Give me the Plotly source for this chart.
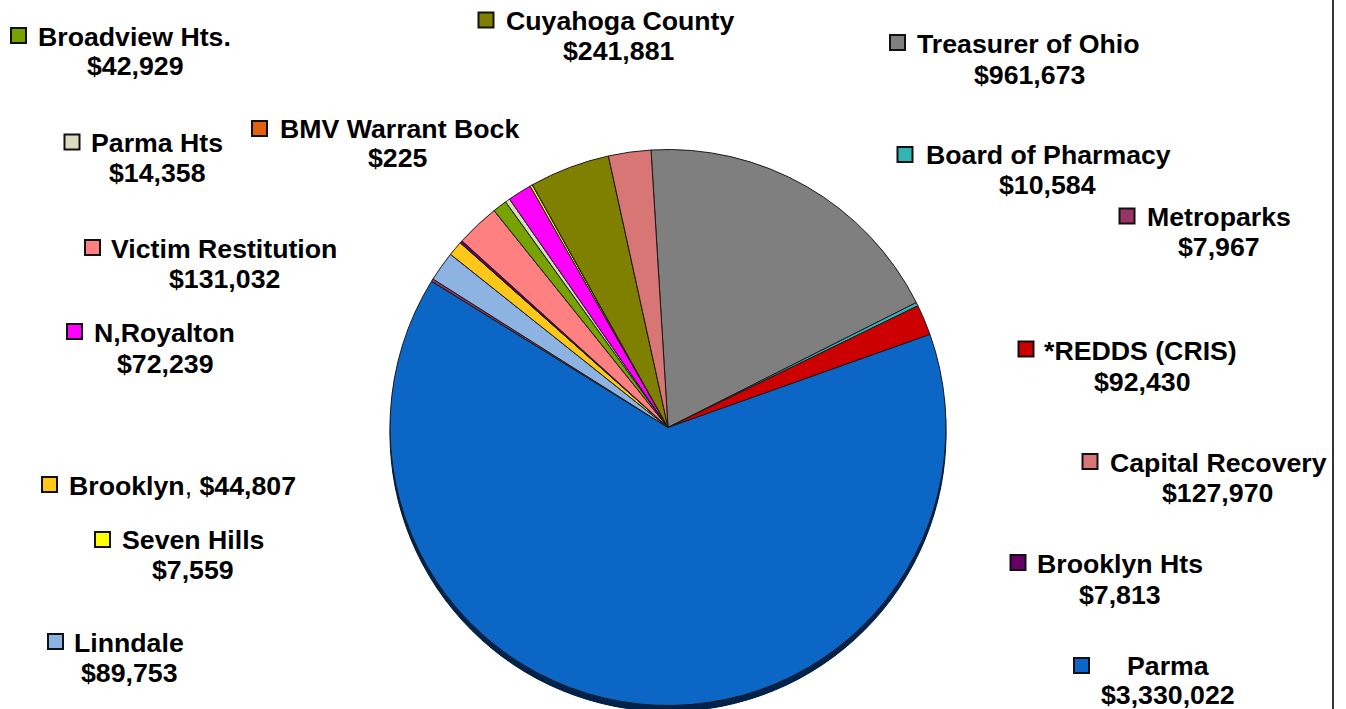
import plotly.graph_objects as go

# ---- data (clockwise order, starting with Treasurer of Ohio) ----
labels = ["Treasurer of Ohio", "Board of Pharmacy", "*REDDS (CRIS)", "Parma",
          "Metroparks", "Linndale", "Brooklyn", "Brooklyn Hts",
          "Victim Restitution", "Broadview Hts.", "Parma Hts", "N,Royalton",
          "Seven Hills", "BMV Warrant Bock", "Cuyahoga County", "Capital Recovery"]
values = [961673, 10584, 92430, 3330022,
          7967, 89753, 44807, 7813,
          131032, 42929, 14358, 72239,
          7559, 225, 241881, 127970]
colors = ["#7f7f7f", "#33b5b5", "#cc0000", "#0b66c6",
          "#993366", "#8db3e2", "#ffc819", "#660066",
          "#ff8080", "#77a300", "#dcdcc0", "#ff00ff",
          "#ffff00", "#e0620a", "#808000", "#d87676"]

W, H = 1346, 709

# ---- label layout (pixel positions: square centre, name left/centre-y, value centre) ----
label_pos = {
    "Broadview Hts.":     ((18.5, 35.5), (39, 36.5), (134.5, 66)),
    "Parma Hts":          ((72, 142), (92, 142.5), (157, 173)),
    "BMV Warrant Bock":   ((259.5, 128.5), (281, 129), (398, 158)),
    "Cuyahoga County":    ((486, 20), (507, 21), (618.5, 51)),
    "Treasurer of Ohio":  ((897.5, 42.5), (918, 43.5), (1029, 75)),
    "Board of Pharmacy":  ((905, 154.5), (927, 155), (1047, 185)),
    "Metroparks":         ((1127, 216), (1148, 216.5), (1219, 247)),
    "*REDDS (CRIS)":      ((1026, 349), (1045, 350.5), (1142, 382)),
    "Capital Recovery":   ((1090, 461.5), (1111, 463), (1217.5, 493)),
    "Brooklyn Hts":       ((1018, 562.5), (1038, 564), (1120, 594.5)),
    "Parma":              ((1081.5, 665.5), (1128, 666), (1168, 695)),
    "Victim Restitution": ((92.5, 247.5), (112, 249), (224.5, 279.5)),
    "N,Royalton":         ((74.5, 331.5), (95, 333), (164.5, 363.5)),
    "Brooklyn":           ((49.5, 484.5), (70, 486), None),
    "Seven Hills":        ((102.5, 539.5), (123, 540), (193, 570)),
    "Linndale":           ((55.5, 641.5), (75, 642.5), (129, 673)),
}

cx, cy, R = 668, 427.5, 278
shadow_dy = 6

def px(x):
    return x / W

def py(y):
    return 1 - y / H

fig = go.Figure()
fig.add_trace(go.Pie(
    labels=labels, values=values, sort=False, direction="clockwise",
    rotation=-3.5, textinfo="none", hoverinfo="label+value",
    marker=dict(colors=colors, line=dict(color="#1a1a1a", width=1)),
    domain=dict(x=[px(cx - R), px(cx + R)], y=[py(cy + R), py(cy - R)]),
    showlegend=False,
))

shapes = [
    # 3-D edge shadow under the pie
    dict(type="circle", xref="paper", yref="paper", layer="below",
         x0=px(cx - R), x1=px(cx + R),
         y0=py(cy + R + shadow_dy), y1=py(cy - R + shadow_dy),
         fillcolor="#00234d", line=dict(color="#001a38", width=1)),
    # right border line
    dict(type="line", xref="paper", yref="paper", x0=px(1333), x1=px(1333),
         y0=0, y1=1, line=dict(color="#333333", width=2)),
]

annotations = []
font_family = "Arial, Liberation Sans, sans-serif"
fs = 26.7
half = 7.5
for lab, val, col in zip(labels, values, colors):
    (sx, sy), (nx, ny), vpos = label_pos[lab]
    shapes.append(dict(type="rect", xref="paper", yref="paper", layer="above",
                       x0=px(sx - half), x1=px(sx + half),
                       y0=py(sy + half), y1=py(sy - half),
                       fillcolor=col, line=dict(color="#111111", width=2)))
    if vpos is None:
        text = f"<b>{lab}</b>, <b>${val:,}</b>"
        weight = "normal"
    else:
        text = lab
        weight = "bold"
    annotations.append(dict(xref="paper", yref="paper", x=px(nx - 1), y=py(ny),
                            xanchor="left", yanchor="middle", showarrow=False,
                            text=text, borderpad=0, borderwidth=0,
                            font=dict(family=font_family, size=fs, color="#000000",
                                      weight=weight)))
    if vpos is not None:
        vx, vy = vpos
        annotations.append(dict(xref="paper", yref="paper", x=px(vx), y=py(vy),
                                xanchor="center", yanchor="middle", showarrow=False,
                                text=f"${val:,}", borderpad=0, borderwidth=0,
                                font=dict(family=font_family, size=fs, color="#000000",
                                          weight="bold")))

fig.update_layout(
    width=W, height=H, margin=dict(l=0, r=0, t=0, b=0),
    paper_bgcolor="white", plot_bgcolor="white",
    shapes=shapes, annotations=annotations, showlegend=False,
)

fig.write_html("out.html",
               config={"displayModeBar": False},
               post_script="document.body.style.margin='0px';"
                           "document.body.style.overflow='hidden';")
